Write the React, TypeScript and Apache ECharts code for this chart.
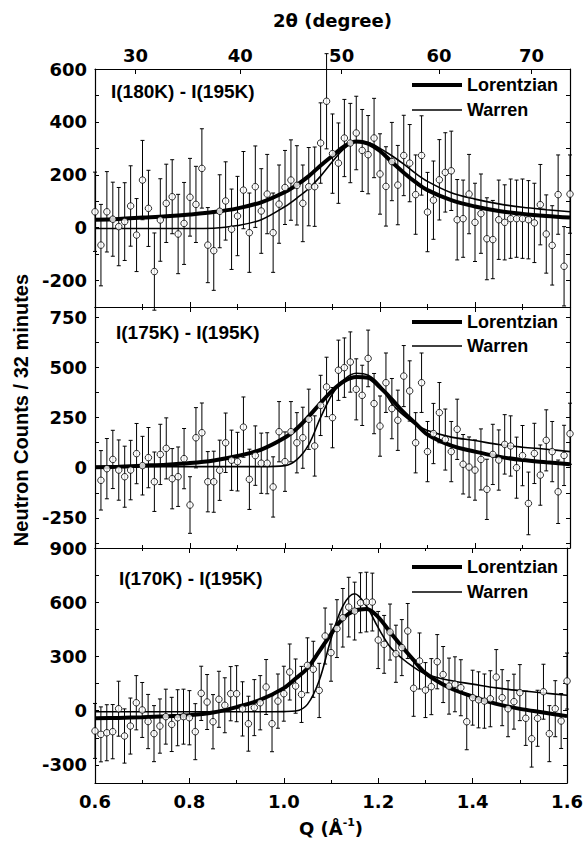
import React, { useEffect, useRef } from 'react';
import * as echarts from 'echarts';

// ---------- data ----------
const Q = [
  0.6, 0.6125, 0.625, 0.6375, 0.65, 0.6625, 0.675, 0.6875, 0.7, 0.7125,
  0.725, 0.7375, 0.75, 0.7625, 0.775, 0.7875, 0.8, 0.8125, 0.825, 0.8375,
  0.85, 0.8625, 0.875, 0.8875, 0.9, 0.9125, 0.925, 0.9375, 0.95, 0.9625,
  0.975, 0.9875, 1.0, 1.0125, 1.025, 1.0375, 1.05, 1.0625, 1.075, 1.0875,
  1.1, 1.1125, 1.125, 1.1375, 1.15, 1.1625, 1.175, 1.1875, 1.2, 1.2125,
  1.225, 1.2375, 1.25, 1.2625, 1.275, 1.2875, 1.3, 1.3125, 1.325, 1.3375,
  1.35, 1.3625, 1.375, 1.3875, 1.4, 1.4125, 1.425, 1.4375, 1.45, 1.4625,
  1.475, 1.4875, 1.5, 1.5125, 1.525, 1.5375, 1.55, 1.5625, 1.575, 1.5875,
  1.6,
];

const PANEL_TITLES = ['I(180K) - I(195K)', 'I(175K) - I(195K)', 'I(170K) - I(195K)'];
const LEGEND_NAMES = ['Lorentzian', 'Warren'];

const V180 = [
  60, -66, 60, 32, 4, 23, 82, -28, 180, 73,
  -166, 29, 92, 117, -24, 16, 115, 88, 224, -66,
  -87, 62, 101, -6, 44, 142, -19, 155, 63, 127,
  -19, 89, 152, 180, 160, 92, 155, 155, 320, 478,
  280, 244, 339, 320, 358, 292, 276, 339, 203, 156,
  250, 161, 273, 244, 125, 273, 59, 104, 181, 209,
  215, 30, 34, 127, 20, 53, -42, -45, 30, 20,
  34, 34, 34, 30, 18, 87, -24, -67, 125, -146,
  127,
];
const E180 = [
  150, 154, 152, 140, 148, 147, 152, 138, 150, 144,
  146, 156, 148, 140, 150, 155, 147, 144, 150, 142,
  150, 138, 148, 152, 150, 146, 150, 154, 160, 150,
  150, 148, 140, 152, 150, 145, 148, 150, 152, 180,
  150, 152, 146, 150, 139, 155, 148, 150, 152, 150,
  148, 150, 152, 146, 150, 150, 150, 148, 152, 150,
  150, 152, 146, 150, 148, 150, 155, 148, 150, 142,
  150, 146, 150, 148, 150, 152, 148, 150, 150, 150,
  148,
];

const V175 = [
  null, -63, -5, 41, -12, -45, -12, 70, 10, 50,
  -70, 66, 96, -55, -45, 45, -186, 149, 174, -70,
  -70, -13, 124, 37, 30, 202, -58, 60, 22, 22,
  -96, 179, 30, 179, 124, 149, 241, 108, 310, 402,
  249, 485, 498, 526, 390, 360, 544, 319, 207, 423,
  294, 236, 456, 382, 124, 423, 80, 170, 274, 140,
  80, 191, 17, 3, -12, 41, -108, 66, 38, 116,
  108, 0, 60, -178, 71, -37, 136, 80, -120, 61,
  169,
];
const E175 = [
  150, 148, 150, 145, 150, 152, 148, 150, 146, 150,
  148, 150, 152, 150, 148, 150, 141, 150, 148, 150,
  152, 150, 148, 150, 146, 150, 150, 148, 150, 152,
  150, 150, 148, 150, 150, 152, 150, 150, 150, 148,
  150, 150, 148, 150, 152, 150, 141, 150, 150, 148,
  150, 150, 152, 150, 150, 148, 150, 150, 150, 152,
  150, 150, 148, 150, 150, 152, 150, 150, 150, 148,
  150, 152, 150, 156, 150, 150, 152, 150, 158, 150,
  152,
];

const V170 = [
  -112, -131, -122, -116, 11, -140, -85, 44, 4, -60,
  -127, -85, -33, -76, -39, -33, -39, -116, 96, 48,
  -61, 63, 30, 94, 94, 10, -72, 17, 44, 131,
  -72, 53, 94, 214, 136, 90, 251, 229, 112, 413,
  321, 454, 514, 573, 551, 597, 601, 601, 391, 367,
  435, 315, 349, 441, 124, 275, 114, 133, 271, 200,
  136, 146, 127, -61, 72, 60, 53, 66, 186, 72,
  11, 50, 100, -42, -155, -42, 105, -127, 11, -57,
  164,
];
const E170 = [
  152, 152, 155, 150, 152, 150, 155, 150, 152, 150,
  155, 150, 152, 150, 155, 152, 150, 155, 150, 152,
  150, 155, 152, 150, 155, 150, 152, 155, 150, 152,
  155, 150, 152, 155, 150, 155, 152, 155, 150, 155,
  158, 160, 162, 165, 160, 166, 165, 160, 158, 160,
  155, 158, 155, 152, 155, 155, 152, 155, 150, 155,
  155, 152, 155, 155, 152, 155, 150, 155, 152, 155,
  155, 152, 155, 150, 157, 155, 152, 155, 155, 152,
  155,
];

const CURVE_Q = [
  0.6, 0.65, 0.7, 0.75, 0.8, 0.85, 0.9, 0.95, 1.0, 1.025,
  1.05, 1.075, 1.1, 1.125, 1.15, 1.175, 1.2, 1.225, 1.25, 1.275,
  1.3, 1.35, 1.4, 1.45, 1.5, 1.55, 1.6,
];
const LOR180 = [
  30, 33, 38, 43, 50, 59, 73, 96, 135, 162,
  195, 235, 272, 308, 326, 318, 290, 248, 208, 172,
  142, 104, 80, 63, 52, 44, 38,
];
const WAR180 = [
  -3, -3, -3, -3, -3, -2, 8, 30, 80, 112,
  148, 195, 250, 300, 325, 322, 300, 272, 240, 205,
  175, 132, 108, 90, 77, 68, 60,
];
const LOR175 = [
  2, 5, 10, 15, 23, 36, 58, 90, 150, 195,
  255, 322, 385, 432, 452, 448, 400, 340, 275, 220,
  165, 110, 80, 55, 38, 27, 17,
];
const WAR175 = [
  5, 5, 5, 5, 5, 5, 5, 5, 10, 40,
  115, 250, 368, 440, 470, 460, 410, 320, 260, 215,
  185, 152, 135, 115, 102, 92, 80,
];
const LOR170 = [
  -42, -40, -36, -31, -25, -10, 20, 60, 125, 178,
  235, 328, 424, 510, 553, 563, 518, 435, 355, 280,
  208, 128, 78, 38, 10, -10, -30,
];
const WAR170 = [
  -6, -6, -6, -6, -6, -6, -6, -6, -5, -2,
  35, 167, 397, 579, 647, 579, 459, 354, 290, 241,
  203, 168, 147, 126, 111, 98, 85,
];

const Y_MIN = [-300, -400, -400];
const Y_MAX = [600, 800, 900];
const Y_LABELS = [
  [-200, 0, 200, 400, 600],
  [-250, 0, 250, 500, 750],
  [-300, 0, 300, 600, 900],
];
const Y_TICKS = [
  [-200, -100, 0, 100, 200, 300, 400, 500],
  [-375, -250, -125, 0, 125, 250, 375, 500, 625, 750],
  [-300, -150, 0, 150, 300, 450, 600, 750],
];
const TWO_THETA_LABELS = [30, 40, 50, 60, 70];
const WAVELENGTH = 4.745; // Angstrom

// ---------- layout / style ----------
const NUM_FONT = 'DejaVu Sans';
const TXT_FONT = 'Liberation Sans';
const GRID_LEFT = 95;
const GRID_WIDTH = 475;
const GRIDS = [
  { top: 69, height: 238 },
  { top: 307, height: 241 },
  { top: 548, height: 235 },
];
// vertical centre of each legend row [Lorentzian, Warren] for each panel
const LEGEND_ROW_Y = [
  [85, 110],
  [322, 346],
  [567, 592],
];
const LEGEND_THICKNESS = [4, 1.6];
const TITLE_POS = [
  { left: 111, top: 82 },
  { left: 116, top: 323 },
  { left: 119, top: 569 },
];

const degToQ = (deg: number) => (4 * Math.PI * Math.sin((deg / 2) * Math.PI / 180)) / WAVELENGTH;
const qToDeg = (q: number) => (2 * Math.asin((q * WAVELENGTH) / (4 * Math.PI)) * 180) / Math.PI;

const numLabel = {
  fontFamily: NUM_FONT,
  fontWeight: 'bold' as const,
  fontSize: 18,
  color: '#000',
};
const lineBlack = { color: '#000', width: 1.2 };

function qAxis(grid: number, position: 'top' | 'bottom', showLabel: boolean) {
  return {
    type: 'value',
    gridIndex: grid,
    position,
    min: 0.6,
    max: 1.6,
    interval: 0.2,
    axisLine: { show: true, onZero: false, lineStyle: lineBlack },
    axisTick: { show: true, inside: true, length: 5, lineStyle: { color: '#000', width: 1 } },
    minorTick: { show: true, splitNumber: 2, length: 3, lineStyle: { color: '#000', width: 1 } },
    axisLabel: {
      show: showLabel,
      margin: 9,
      ...numLabel,
      formatter: (v: number) => v.toFixed(1),
    },
    splitLine: { show: false },
    minorSplitLine: { show: false },
  } as any;
}

function yAxis(i: number, position: 'left' | 'right') {
  return {
    type: 'value',
    gridIndex: i,
    position,
    min: Y_MIN[i],
    max: Y_MAX[i],
    axisLine: { show: true, onZero: false, lineStyle: lineBlack },
    axisTick: {
      show: true,
      inside: true,
      length: 4,
      customValues: Y_TICKS[i],
      lineStyle: { color: '#000', width: 1 },
    },
    axisLabel: {
      show: position === 'left',
      customValues: Y_LABELS[i],
      margin: 8,
      ...numLabel,
    },
    splitLine: { show: false },
  } as any;
}

function errorRender(params: any, api: any) {
  const x = api.value(0);
  const y = api.value(1);
  const e = api.value(2);
  const top = api.coord([x, y + e]);
  const bot = api.coord([x, y - e]);
  const cap = 2;
  const style = { stroke: '#000', lineWidth: 1 };
  return {
    type: 'group',
    children: [
      { type: 'line', shape: { x1: top[0], y1: top[1], x2: bot[0], y2: bot[1] }, style },
      { type: 'line', shape: { x1: top[0] - cap, y1: top[1], x2: top[0] + cap, y2: top[1] }, style },
      { type: 'line', shape: { x1: bot[0] - cap, y1: bot[1], x2: bot[0] + cap, y2: bot[1] }, style },
    ],
  };
}

function buildOption() {
  const panels = [
    { v: V180, e: E180, lor: LOR180, war: WAR180 },
    { v: V175, e: E175, lor: LOR175, war: WAR175 },
    { v: V170, e: E170, lor: LOR170, war: WAR170 },
  ];
  const ttQ = TWO_THETA_LABELS.map(degToQ);

  const xAxes: any[] = [
    qAxis(0, 'bottom', false),
    {
      type: 'value',
      gridIndex: 0,
      position: 'top',
      min: 0.6,
      max: 1.6,
      axisLine: { show: true, onZero: false, lineStyle: lineBlack },
      axisTick: { show: true, inside: true, length: 5, customValues: ttQ, lineStyle: { color: '#000', width: 1 } },
      axisLabel: {
        show: true,
        customValues: ttQ,
        margin: 5,
        ...numLabel,
        formatter: (v: number) => String(Math.round(qToDeg(v))),
      },
      splitLine: { show: false },
      name: '2θ (degree)',
      nameLocation: 'middle',
      nameGap: 40,
      nameTextStyle: { ...numLabel },
    },
    qAxis(1, 'bottom', false),
    qAxis(1, 'top', false),
    {
      ...qAxis(2, 'bottom', true),
      name: 'Q (Å{sup|-1})',
      nameLocation: 'middle',
      nameGap: 34,
      nameTextStyle: {
        ...numLabel,
        lineHeight: 22,
        rich: {
          sup: { fontFamily: NUM_FONT, fontWeight: 'bold', fontSize: 11, color: '#000', verticalAlign: 'top', lineHeight: 11 },
        },
      },
    },
    qAxis(2, 'top', false),
  ];

  const yAxes: any[] = [
    yAxis(0, 'left'),
    yAxis(0, 'right'),
    {
      ...yAxis(1, 'left'),
      name: 'Neutron Counts / 32 minutes',
      nameLocation: 'middle',
      nameGap: 61,
      nameTextStyle: {
        fontFamily: TXT_FONT,
        fontWeight: 'bold',
        fontSize: 20,
        color: '#000',
        padding: [0, 0, 0, 35],
      },
    },
    yAxis(1, 'right'),
    yAxis(2, 'left'),
    yAxis(2, 'right'),
  ];

  const series: any[] = [];
  panels.forEach((p, i) => {
    const axisIdx = i * 2;
    const pts = Q.map((q, k) => (p.v[k] == null ? null : [q, p.v[k] as number, p.e[k]])).filter(
      (d) => d !== null,
    ) as number[][];
    series.push({
      type: 'custom',
      name: PANEL_TITLES[i] + ' error',
      xAxisIndex: axisIdx,
      yAxisIndex: axisIdx,
      data: pts,
      encode: { x: 0, y: 1 },
      renderItem: errorRender,
      silent: true,
      z: 2,
    });
    series.push({
      type: 'line',
      name: LEGEND_NAMES[0],
      xAxisIndex: axisIdx,
      yAxisIndex: axisIdx,
      data: CURVE_Q.map((q, k) => [q, p.lor[k]]),
      smooth: 0.35,
      symbol: 'none',
      color: '#000',
      lineStyle: { color: '#000', width: 4 },
      silent: true,
      z: 3,
    });
    series.push({
      type: 'line',
      name: LEGEND_NAMES[1],
      xAxisIndex: axisIdx,
      yAxisIndex: axisIdx,
      data: CURVE_Q.map((q, k) => [q, p.war[k]]),
      smooth: 0.35,
      symbol: 'none',
      color: '#000',
      lineStyle: { color: '#000', width: 1.6 },
      silent: true,
      z: 3,
    });
    series.push({
      type: 'scatter',
      name: PANEL_TITLES[i],
      xAxisIndex: axisIdx,
      yAxisIndex: axisIdx,
      data: pts.map((d) => [d[0], d[1]]),
      symbol: 'circle',
      symbolSize: 6.5,
      itemStyle: { color: '#fff', borderColor: '#000', borderWidth: 1 },
      silent: true,
      z: 4,
    });
  });

  const legends: any[] = [];
  LEGEND_ROW_Y.forEach((rows) => {
    rows.forEach((cy, j) => {
      legends.push({
        orient: 'vertical',
        left: 412,
        top: cy - 10,
        padding: 0,
        icon: 'rect',
        itemWidth: 50,
        itemHeight: LEGEND_THICKNESS[j],
        selectedMode: false,
        data: [LEGEND_NAMES[j]],
        itemStyle: { color: '#000', borderWidth: 0 },
        textStyle: { fontFamily: TXT_FONT, fontWeight: 'bold', fontSize: 18, lineHeight: 20, color: '#000' },
      });
    });
  });

  return {
    animation: false,
    backgroundColor: '#fff',
    title: PANEL_TITLES.map((t, i) => ({
      text: t,
      left: TITLE_POS[i].left,
      top: TITLE_POS[i].top,
      padding: 0,
      textStyle: { fontFamily: TXT_FONT, fontWeight: 'bold', fontSize: 19, color: '#000' },
    })),
    legend: legends,
    grid: GRIDS.map((g) => ({ left: GRID_LEFT, width: GRID_WIDTH, top: g.top, height: g.height })),
    xAxis: xAxes,
    yAxis: yAxes,
    series,
  };
}

export default function App() {
  const ref = useRef<HTMLDivElement>(null);
  useEffect(() => {
    if (!ref.current) return;
    const chart = echarts.init(ref.current, null, { renderer: 'svg' });
    chart.setOption(buildOption() as any);
    return () => {
      chart.dispose();
    };
  }, []);
  return (
    <div
      ref={ref}
      style={{ position: 'fixed', left: 0, top: 0, width: 586, height: 844, background: '#fff' }}
    />
  );
}
